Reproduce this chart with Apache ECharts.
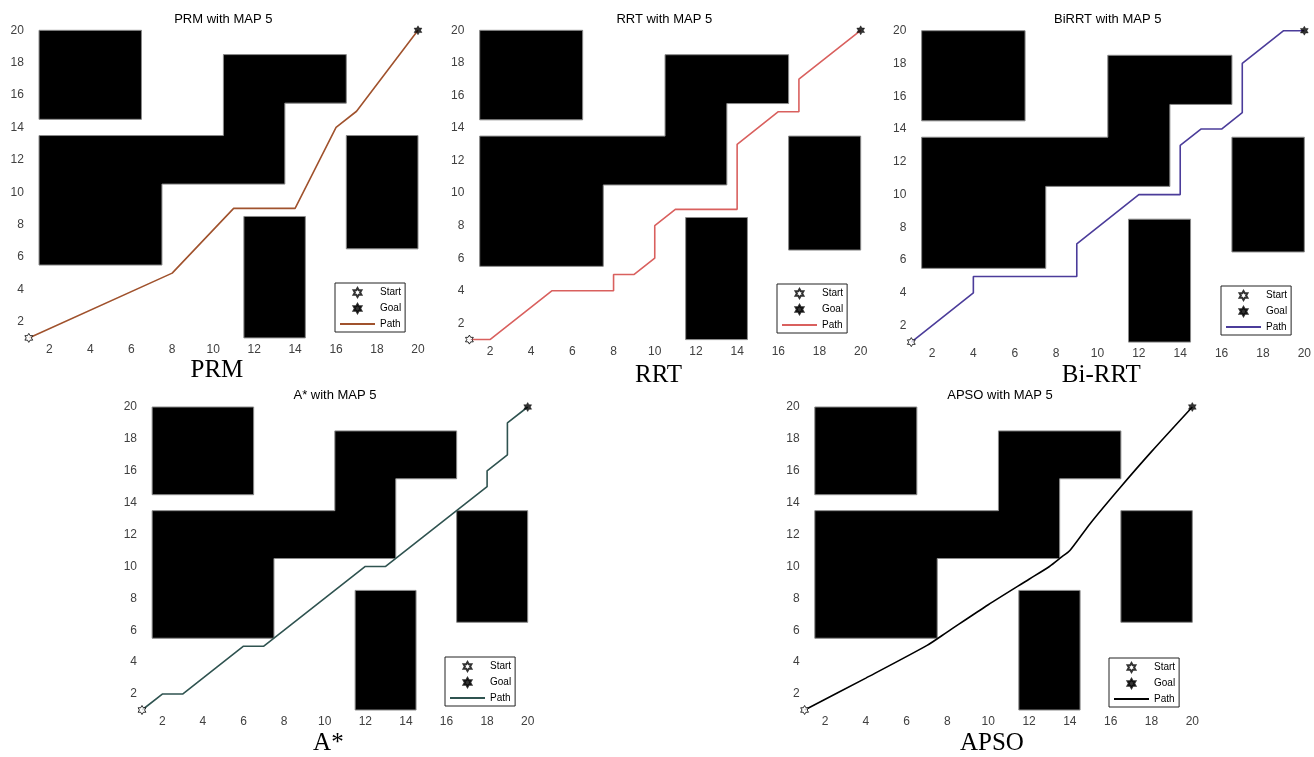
<!DOCTYPE html>
<html><head><meta charset="utf-8">
<script src="https://cdn.jsdelivr.net/npm/echarts@6/dist/echarts.min.js"></script>
<style>html,body{margin:0;padding:0;background:#fff}#c{width:1314px;height:757px}</style>
</head><body><div id="c"></div>
<script>
// ---------- data ----------
const panelKeys = ['prm', 'rrt', 'birrt', 'astar', 'apso'];
const panelTitles = ['PRM with MAP 5', 'RRT with MAP 5', 'BiRRT with MAP 5', 'A* with MAP 5', 'APSO with MAP 5'];
const panelLabels = ['PRM', 'RRT', 'Bi-RRT', 'A*', 'APSO'];
const tickValues = [2, 4, 6, 8, 10, 12, 14, 16, 18, 20];
const axisMin = 1;
const axisMax = 20;
const legendNames = ['Start', 'Goal', 'Path'];
const startPoint = [1, 1];
const goalPoint = [20, 20];
// obstacles (map units)
const obstacleLShape = [[1.5, 5.5], [7.5, 5.5], [7.5, 10.5], [13.5, 10.5], [13.5, 15.5], [16.5, 15.5], [16.5, 18.5], [10.5, 18.5], [10.5, 13.5], [1.5, 13.5]];
const obstacleTopLeft = [[1.5, 14.5], [6.5, 14.5], [6.5, 20], [1.5, 20]];
const obstacleRight = [[16.5, 6.5], [20, 6.5], [20, 13.5], [16.5, 13.5]];
const obstacleBottom = [[11.5, 1], [14.5, 1], [14.5, 8.5], [11.5, 8.5]];
// paths
const pathPRM = [[1, 1], [8, 5], [11, 9], [14, 9], [16, 14], [17, 15], [20, 20]];
const pathRRT = [[1, 1], [2, 1], [5, 4], [8, 4], [8, 5], [9, 5], [10, 6], [10, 8], [11, 9], [14, 9], [14, 13], [16, 15], [17, 15], [17, 17], [20, 20]];
const pathBiRRT = [[1, 1], [4, 4], [4, 5], [9, 5], [9, 7], [12, 10], [14, 10], [14, 13], [15, 14], [16, 14], [17, 15], [17, 18], [19, 20], [20, 20]];
const pathAStar = [[1, 1], [2, 2], [3, 2], [6, 5], [7, 5], [12, 10], [13, 10], [18, 15], [18, 16], [19, 17], [19, 19], [20, 20]];
const pathAPSO = [[1, 1], [4, 3], [7, 5.05], [8, 5.9], [10, 7.6], [12, 9.2], [13, 10], [13.6, 10.6], [14, 11], [15, 12.7], [16.5, 15], [18, 17.2], [20, 20]];
const pathColors = ['#A0522D', '#D9605E', '#4B3C9A', '#2F5350', '#000000'];

// ---------- layout ----------
const allPaths = [pathPRM, pathRRT, pathBiRRT, pathAStar, pathAPSO];
const obstacles = [obstacleLShape, obstacleTopLeft, obstacleRight, obstacleBottom];
const grids = [
  { left: 28.8, top: 30.3, width: 389.2, height: 307.6 },
  { left: 469.4, top: 30.3, width: 391.3, height: 309.3 },
  { left: 911.3, top: 30.7, width: 393.7, height: 311.4 },
  { left: 142, top: 407, width: 385.7, height: 304.3 },
  { left: 804.6, top: 407, width: 387.7, height: 306.1 }
];
const legendPos = [[335, 283], [777, 284], [1221, 286], [445, 657], [1109, 658]];
const titlePos = [[223.3, 12.5], [664.3, 12.5], [1107.7, 13], [335, 389], [1000, 389]];
const nameGaps = [20, 23, 21, 21, 21];

const R = 10, r = 10 / Math.sqrt(3);
let hp = [];
for (let i = 0; i < 12; i++) {
  const a = (-90 + 30 * i) * Math.PI / 180;
  const rr = i % 2 === 0 ? R : r;
  hp.push((rr * Math.cos(a)).toFixed(3) + ',' + (rr * Math.sin(a)).toFixed(3));
}
const hexagram = 'path://M' + hp.join('L') + 'Z';
const font = 'Liberation Sans, Arial, sans-serif';

const option = {
  backgroundColor: '#fff',
  animation: false,
  title: [], grid: [], xAxis: [], yAxis: [], legend: [], series: []
};

panelKeys.forEach((key, i) => {
  const g = grids[i];
  option.grid.push({ left: g.left, top: g.top, width: g.width, height: g.height, containLabel: false });
  option.title.push({
    text: panelTitles[i], left: titlePos[i][0], top: titlePos[i][1], textAlign: 'center', padding: 0,
    textStyle: { fontFamily: font, fontSize: 13, fontWeight: 'normal', color: '#000' }
  });
  option.xAxis.push({
    type: 'value', gridIndex: i, min: axisMin, max: axisMax,
    axisLine: { show: false }, axisTick: { show: false }, splitLine: { show: false },
    axisLabel: { customValues: tickValues, fontFamily: font, fontSize: 12, color: '#404040', margin: 6 },
    name: panelLabels[i], nameLocation: 'middle', nameGap: nameGaps[i],
    nameTextStyle: { fontFamily: 'Liberation Serif, Times New Roman, serif', fontSize: 25, color: '#000', padding: [0, 13, 0, 0] }
  });
  option.yAxis.push({
    type: 'value', gridIndex: i, min: axisMin, max: axisMax,
    axisLine: { show: false }, axisTick: { show: false }, splitLine: { show: false },
    axisLabel: { customValues: tickValues, fontFamily: font, fontSize: 12, color: '#404040', margin: 5 }
  });
  option.legend.push({
    orient: 'vertical', left: legendPos[i][0], top: legendPos[i][1],
    data: legendNames.map(n => n === 'Path'
      ? { name: n + '|' + key, itemStyle: { opacity: 0, color: 'rgba(0,0,0,0)', borderWidth: 0 } }
      : { name: n + '|' + key }),
    formatter: n => n.split('|')[0],
    selectedMode: false,
    itemWidth: 35, itemHeight: 9, itemGap: 5,
    padding: [4, 4, 3, 4],
    borderColor: '#222', borderWidth: 1, backgroundColor: '#fff',
    textStyle: { fontFamily: font, fontSize: 10, color: '#000' }
  });
  option.series.push({
    type: 'custom', name: 'obstacles|' + key, xAxisIndex: i, yAxisIndex: i, silent: true,
    data: obstacles.map((o, k) => [k]),
    renderItem: (params, api) => {
      const poly = obstacles[api.value(0)];
      return {
        type: 'polygon',
        shape: { points: poly.map(p => api.coord(p)) },
        style: { fill: '#000', stroke: '#8a8a8a', lineWidth: 1 }
      };
    },
    z: 1
  });
  option.series.push({
    type: 'line', name: 'Path|' + key, xAxisIndex: i, yAxisIndex: i,
    data: allPaths[i], symbol: 'circle', showSymbol: false, smooth: key === 'apso' ? 0.25 : false,
    lineStyle: { color: pathColors[i], width: 1.6 }, itemStyle: { color: pathColors[i] },
    z: 2
  });
  option.series.push({
    type: 'scatter', name: 'Start|' + key, xAxisIndex: i, yAxisIndex: i,
    data: [startPoint], symbol: hexagram, symbolSize: 9, symbolKeepAspect: true,
    itemStyle: { color: '#fff', borderColor: '#000', borderWidth: 1 }, z: 3
  });
  option.series.push({
    type: 'scatter', name: 'Goal|' + key, xAxisIndex: i, yAxisIndex: i,
    data: [goalPoint], symbol: hexagram, symbolSize: 9, symbolKeepAspect: true,
    itemStyle: { color: '#000', borderColor: '#000', borderWidth: 0.5 }, z: 3
  });
});

const chart = echarts.init(document.getElementById('c'), null, { renderer: 'canvas' });
chart.setOption(option);
</script>
</body></html>
